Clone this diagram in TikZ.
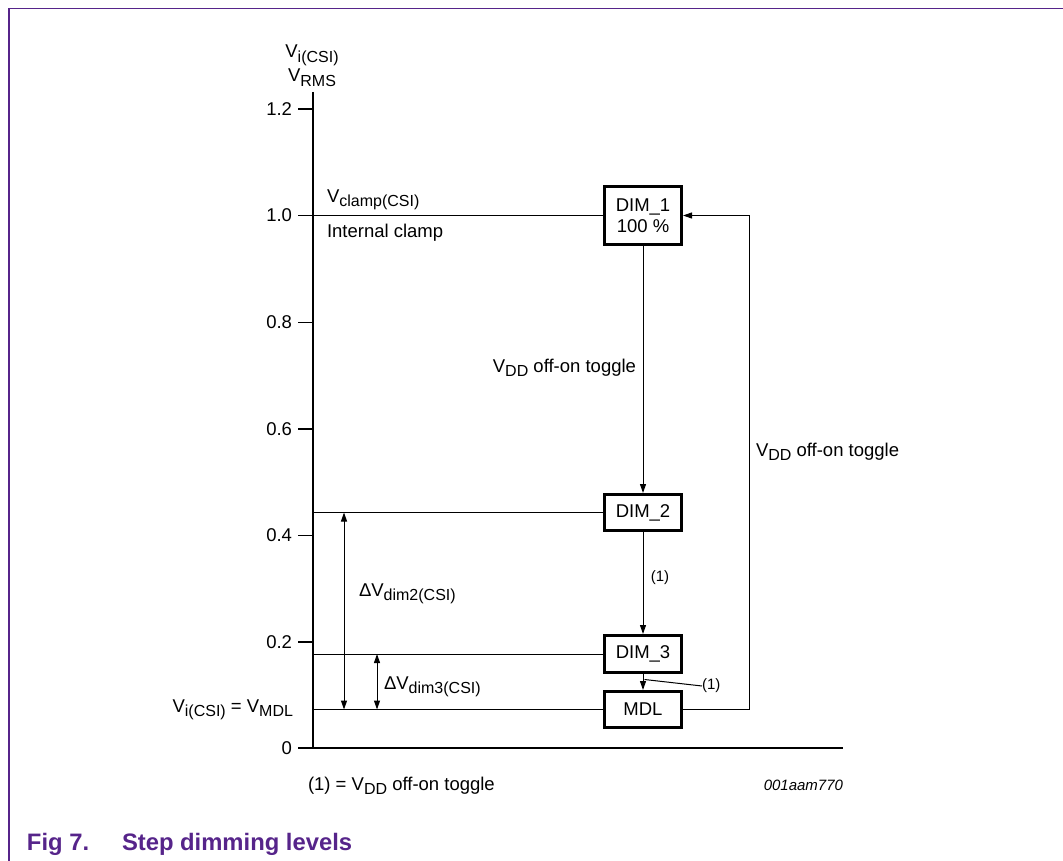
\documentclass[tikz,border=0pt]{standalone}
\usepackage{fontspec}
\setmainfont{Liberation Sans}
\usetikzlibrary{arrows.meta}
\definecolor{nxp}{RGB}{86,36,138}
\newcommand\lsub[1]{\raisebox{-4.5pt}{\fontsize{16pt}{16pt}\selectfont #1}}
\begin{document}
\begin{tikzpicture}[x=1pt,y=-1pt,
  every node/.style={inner sep=0pt, outer sep=0pt},
  font=\fontsize{18.5pt}{20.5pt}\selectfont,
  box/.style={draw, line width=3pt, minimum width=77pt, inner sep=0pt, align=center, outer sep=1.5pt},
  thinl/.style={line width=1pt},
  axisl/.style={line width=1.4pt},
  arr/.style={line width=1pt, -{Triangle[length=9pt,width=6pt]}},
  darr/.style={line width=1pt, {Triangle[length=9pt,width=6pt]}-{Triangle[length=9pt,width=6pt]}},
  small/.style={font=\fontsize{15pt}{15pt}\selectfont},
  title/.style={font=\fontsize{23.8pt}{24pt}\selectfont\bfseries, text=nxp}]
\useasboundingbox (0,0) rectangle (1063,861);

% frame
\coordinate (f1) at (9,861);
\coordinate (f2) at (9,8.5);
\coordinate (f3) at (1063,8.5);
\draw[nxp, line width=1.6pt] (f1) -- (f2) -- (f3);

% axes
\coordinate (ytop) at (313,92);
\coordinate (org) at (313,748);
\coordinate (xend) at (843,748);
\coordinate (t0) at (298,748);
\draw[axisl] (ytop) -- (org);
\draw[axisl] (t0) -- (xend);
\foreach \v/\y [count=\i] in {1.2/109,1.0/215.5,0.8/322.5,0.6/429,0.4/535.5,0.2/642}{
  \coordinate (tka\i) at (298,\y);
  \coordinate (tkb\i) at (313,\y);
  \draw[axisl] (tka\i) -- (tkb\i);
  \node[anchor=east] (tick\i) at (292,\y) {\v};
}
\node[anchor=east] (tick0) at (292,748) {0};

% axis title
\node[anchor=base] (yt1) at (312,57.7) {V\lsub{i(CSI)}};
\node[anchor=base] (yt2) at (312,81.7) {V\lsub{RMS}};

% boxes
\node[box, minimum height=58pt] (dim1) at (643,215.5) {DIM\_1\\100 \%};
\node[box, minimum height=36pt] (dim2) at (643,512.5) {DIM\_2};
\node[box, minimum height=37pt] (dim3) at (643,654) {DIM\_3};
\node[box, minimum height=36pt] (mdl) at (643,709.5) {MDL};

% level lines
\coordinate (a1) at (313,215.5);
\coordinate (a2) at (313,512.5);
\coordinate (a3) at (313,654);
\coordinate (a4) at (313,709.5);
\draw[thinl] (a1) -- (dim1.west);
\draw[thinl] (a2) -- (dim2.west);
\draw[thinl] (a3) -- (dim3.west);
\draw[thinl] (a4) -- (mdl.west);

% transitions
\draw[arr] (dim1.south) -- (dim2.north);
\draw[arr] (dim2.south) -- (dim3.north);
\draw[arr] (dim3.south) -- (mdl.north);
\coordinate (rc) at (749,709.5);
\draw[arr] (mdl.east) -- (rc) |- (dim1.east);

% labels
\node[anchor=base west] (vclamp) at (327,202.5) {V\lsub{clamp(CSI)}};
\node[anchor=base west] (iclamp) at (327,238) {Internal clamp};
\node[anchor=base east] (tog1) at (636,372) {V\lsub{DD} off-on toggle};
\node[anchor=base west] (tog2) at (756,456) {V\lsub{DD} off-on toggle};
\node[small] (n1a) at (660,578) {(1)};
\node[small, anchor=west] (n1b) at (702,686) {(1)};
\coordinate (ld) at (644.5,679.5);
\draw[thinl] (ld) -- (n1b.west);

% delta arrows
\coordinate (d2t) at (344,512.5);
\coordinate (d2b) at (344,709.5);
\coordinate (d3t) at (377,654);
\coordinate (d3b) at (377,709.5);
\draw[darr] (d2t) -- (d2b);
\draw[darr] (d3t) -- (d3b);
\node[anchor=base west] (dl2) at (359,596) {ΔV\lsub{dim2(CSI)}};
\node[anchor=base west] (dl3) at (384,689) {ΔV\lsub{dim3(CSI)}};
\node[anchor=base east] (vmdl) at (293,712) {V\lsub{i(CSI)} = V\lsub{MDL}};

% footer
\node[anchor=base west] (foot) at (308,790) {(1) = V\lsub{DD} off-on toggle};
\node[anchor=base east, small, font=\fontsize{15pt}{15pt}\selectfont\itshape] (code) at (843,790) {001aam770};
\node[anchor=base west, title] (fig) at (27,850) {Fig 7.};
\node[anchor=base west, title] (figt) at (122,850) {Step dimming levels};
\end{tikzpicture}
\end{document}
